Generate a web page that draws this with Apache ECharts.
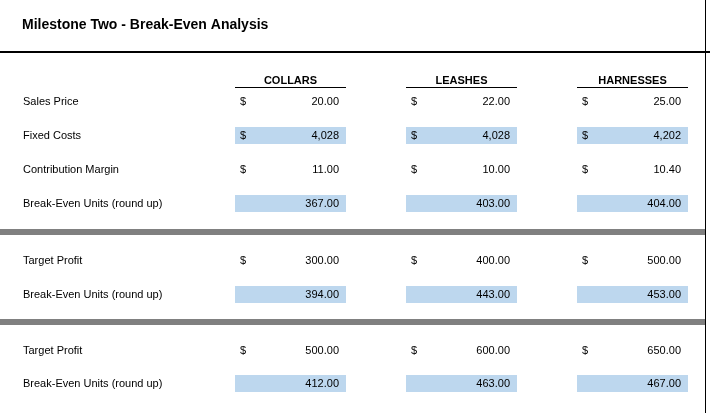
<!DOCTYPE html>
<html><head><meta charset="utf-8">
<script src="https://cdn.jsdelivr.net/npm/echarts@6/dist/echarts.min.js"></script>
<style>html,body{margin:0;padding:0;background:#fff}#main{width:710px;height:413px}</style>
</head><body><div id="main"></div>
<script>
var title = 'Milestone Two - Break-Even Analysis';
var products = ['COLLARS', 'LEASHES', 'HARNESSES'];
var rowLabels = ['Sales Price', 'Fixed Costs', 'Contribution Margin', 'Break-Even Units (round up)',
                 'Target Profit', 'Break-Even Units (round up)',
                 'Target Profit', 'Break-Even Units (round up)'];
var salesPrice = ['20.00', '22.00', '25.00'];
var fixedCosts = ['4,028', '4,028', '4,202'];
var contribMargin = ['11.00', '10.00', '10.40'];
var breakEven = ['367.00', '403.00', '404.00'];
var targetProfit1 = ['300.00', '400.00', '500.00'];
var breakEven1 = ['394.00', '443.00', '453.00'];
var targetProfit2 = ['500.00', '600.00', '650.00'];
var breakEven2 = ['412.00', '463.00', '467.00'];

var rowValues = [salesPrice, fixedCosts, contribMargin, breakEven, targetProfit1, breakEven1, targetProfit2, breakEven2];
var rowDollar = [true, true, true, false, true, false, true, false];
var rowFill = [false, true, false, true, false, true, false, true];

// layout
var rowY = [102, 136, 170, 204, 261, 295, 351, 384];
var colX = [235, 406, 577];
var colW = 111;
var font = '11px "Liberation Sans", Arial, sans-serif';

var els = [];
els.push({type: 'text', left: 22, top: 18, style: {text: title, font: 'bold 14px "Liberation Sans", Arial', fill: '#000'}});
els.push({type: 'rect', shape: {x: 0, y: 51, width: 710, height: 2}, style: {fill: '#000'}});
els.push({type: 'rect', shape: {x: 705, y: 0, width: 1, height: 413}, style: {fill: '#000'}});
els.push({type: 'rect', shape: {x: 0, y: 229, width: 705, height: 6}, style: {fill: '#808080'}});
els.push({type: 'rect', shape: {x: 0, y: 319, width: 705, height: 6}, style: {fill: '#808080'}});

products.forEach(function (p, i) {
    els.push({type: 'text', x: colX[i] + colW / 2, y: 81, style: {text: p, font: 'bold 11px "Liberation Sans", Arial', fill: '#000', align: 'center', verticalAlign: 'middle'}});
    els.push({type: 'rect', shape: {x: colX[i], y: 87, width: colW, height: 1}, style: {fill: '#000'}});
});

rowLabels.forEach(function (lab, r) {
    var y = rowY[r];
    els.push({type: 'text', x: 23, y: y, style: {text: lab, font: font, fill: '#000', verticalAlign: 'middle'}});
    for (var i = 0; i < 3; i++) {
        if (rowFill[r]) {
            els.push({type: 'rect', shape: {x: colX[i], y: y - 9, width: colW, height: 17}, style: {fill: '#bdd7ee'}});
        }
        if (rowDollar[r]) {
            els.push({type: 'text', x: colX[i] + 5, y: y, style: {text: '$', font: font, fill: '#000', verticalAlign: 'middle'}});
        }
        els.push({type: 'text', x: colX[i] + 104, y: y, style: {text: rowValues[r][i], font: font, fill: '#000', align: 'right', verticalAlign: 'middle'}});
    }
});

var myChart = echarts.init(document.getElementById('main'));
var option = {graphic: {elements: els}};
myChart.setOption(option, true);
</script>
</body></html>
